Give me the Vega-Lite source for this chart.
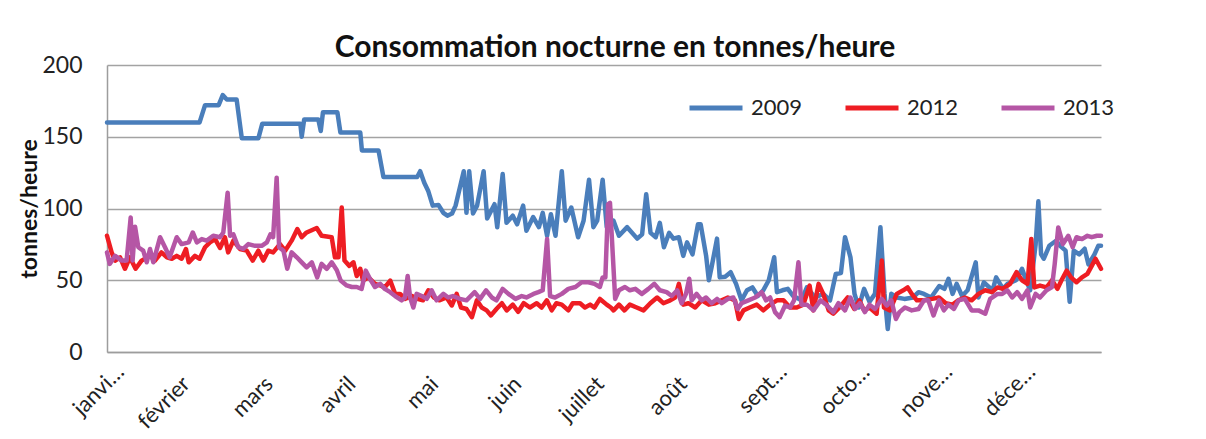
{
  "$schema": "https://vega.github.io/schema/vega-lite/v6.json",
  "autosize": {"type": "none"},
  "padding": {"left": 107, "top": 65, "right": 105, "bottom": 87},
  "width": 994,
  "height": 287,
  "background": "white",
  "title": {"text": "Consommation nocturne en tonnes/heure", "font": "Lato", "fontSize": 30, "fontWeight": "bold", "color": "#111111", "anchor": "middle", "offset": -9, "dx": 11},
  "config": {"view": {"stroke": null}},
  "data": {"values": [
{"s":"2009","d":0,"v":160},{"s":"2009","d":34,"v":160},{"s":"2009","d":36,"v":172},{"s":"2009","d":41,"v":172},{"s":"2009","d":42.5,"v":179},{"s":"2009","d":44,"v":176},{"s":"2009","d":47.6,"v":176},{"s":"2009","d":49.5,"v":149},{"s":"2009","d":55.6,"v":149},{"s":"2009","d":57,"v":159},{"s":"2009","d":71,"v":159},{"s":"2009","d":71.5,"v":150},{"s":"2009","d":72.4,"v":162},{"s":"2009","d":77.6,"v":162},{"s":"2009","d":78.5,"v":154},{"s":"2009","d":79.3,"v":167},{"s":"2009","d":84.6,"v":167},{"s":"2009","d":85.7,"v":153},{"s":"2009","d":93,"v":153},{"s":"2009","d":93.6,"v":140.5},{"s":"2009","d":99.7,"v":140.5},{"s":"2009","d":101.5,"v":122},{"s":"2009","d":113.9,"v":122},{"s":"2009","d":115,"v":126},{"s":"2009","d":116.5,"v":118},{"s":"2009","d":118,"v":112},{"s":"2009","d":119.6,"v":102},{"s":"2009","d":121.7,"v":102.5},{"s":"2009","d":123.5,"v":97},{"s":"2009","d":125,"v":95},{"s":"2009","d":126.7,"v":96.5},{"s":"2009","d":128,"v":102},{"s":"2009","d":131,"v":126},{"s":"2009","d":132,"v":97},{"s":"2009","d":133,"v":126},{"s":"2009","d":134.4,"v":96.5},{"s":"2009","d":135.9,"v":102},{"s":"2009","d":138.3,"v":126},{"s":"2009","d":139.6,"v":93},{"s":"2009","d":142.3,"v":103},{"s":"2009","d":143.3,"v":87},{"s":"2009","d":145.3,"v":124},{"s":"2009","d":146.7,"v":90},{"s":"2009","d":149,"v":95},{"s":"2009","d":150.6,"v":89},{"s":"2009","d":152.8,"v":102},{"s":"2009","d":154,"v":84.5},{"s":"2009","d":156.5,"v":94},{"s":"2009","d":158.6,"v":87},{"s":"2009","d":160,"v":97},{"s":"2009","d":161.6,"v":81},{"s":"2009","d":163,"v":96},{"s":"2009","d":164.7,"v":81},{"s":"2009","d":167,"v":126},{"s":"2009","d":168.4,"v":91.5},{"s":"2009","d":170.5,"v":100.7},{"s":"2009","d":173,"v":80},{"s":"2009","d":175,"v":91.5},{"s":"2009","d":177,"v":120},{"s":"2009","d":178.6,"v":87},{"s":"2009","d":180,"v":91.5},{"s":"2009","d":182,"v":120},{"s":"2009","d":183.5,"v":87},{"s":"2009","d":186,"v":91.5},{"s":"2009","d":188,"v":81},{"s":"2009","d":191,"v":87},{"s":"2009","d":194.7,"v":79},{"s":"2009","d":196.5,"v":82},{"s":"2009","d":198,"v":110},{"s":"2009","d":199.6,"v":83},{"s":"2009","d":201.5,"v":80},{"s":"2009","d":203,"v":90},{"s":"2009","d":204.5,"v":73},{"s":"2009","d":206.4,"v":83},{"s":"2009","d":208,"v":79},{"s":"2009","d":210,"v":80},{"s":"2009","d":211.6,"v":67},{"s":"2009","d":213,"v":76.4},{"s":"2009","d":215,"v":68},{"s":"2009","d":217,"v":89},{"s":"2009","d":218,"v":89},{"s":"2009","d":220,"v":67},{"s":"2009","d":221,"v":50},{"s":"2009","d":222,"v":59},{"s":"2009","d":224,"v":79},{"s":"2009","d":225,"v":52},{"s":"2009","d":227,"v":52.5},{"s":"2009","d":229,"v":55.6},{"s":"2009","d":231,"v":47.5},{"s":"2009","d":233,"v":36},{"s":"2009","d":235,"v":43},{"s":"2009","d":237,"v":45},{"s":"2009","d":239,"v":39},{"s":"2009","d":241,"v":43},{"s":"2009","d":243,"v":50},{"s":"2009","d":245,"v":66},{"s":"2009","d":246,"v":41.7},{"s":"2009","d":248,"v":43},{"s":"2009","d":250,"v":44},{"s":"2009","d":252,"v":39},{"s":"2009","d":255,"v":36},{"s":"2009","d":257,"v":45},{"s":"2009","d":260,"v":38},{"s":"2009","d":263,"v":40.5},{"s":"2009","d":265.5,"v":36},{"s":"2009","d":267.6,"v":54.4},{"s":"2009","d":269.5,"v":55},{"s":"2009","d":271,"v":80},{"s":"2009","d":273,"v":66},{"s":"2009","d":274.5,"v":40.5},{"s":"2009","d":276,"v":31},{"s":"2009","d":278,"v":44},{"s":"2009","d":280,"v":35},{"s":"2009","d":282,"v":40.5},{"s":"2009","d":284,"v":87},{"s":"2009","d":285.5,"v":40.6},{"s":"2009","d":286.7,"v":16},{"s":"2009","d":288,"v":40.6},{"s":"2009","d":290,"v":38},{"s":"2009","d":292.8,"v":37},{"s":"2009","d":296,"v":38},{"s":"2009","d":298,"v":41.7},{"s":"2009","d":300,"v":40.5},{"s":"2009","d":302.6,"v":38},{"s":"2009","d":305.6,"v":46},{"s":"2009","d":307.5,"v":44},{"s":"2009","d":309,"v":51},{"s":"2009","d":310.5,"v":40.5},{"s":"2009","d":312,"v":47.5},{"s":"2009","d":314,"v":39},{"s":"2009","d":316,"v":43},{"s":"2009","d":319,"v":62.5},{"s":"2009","d":320,"v":38},{"s":"2009","d":322,"v":48.6},{"s":"2009","d":324,"v":45},{"s":"2009","d":325,"v":41.7},{"s":"2009","d":326.5,"v":52},{"s":"2009","d":329,"v":44},{"s":"2009","d":330.7,"v":47.5},{"s":"2009","d":333.8,"v":50},{"s":"2009","d":336,"v":58},{"s":"2009","d":337.5,"v":50},{"s":"2009","d":339,"v":43},{"s":"2009","d":341,"v":75},{"s":"2009","d":342,"v":105},{"s":"2009","d":343,"v":68},{"s":"2009","d":344,"v":65},{"s":"2009","d":346,"v":74},{"s":"2009","d":348.5,"v":77.5},{"s":"2009","d":350,"v":74},{"s":"2009","d":352,"v":70.6},{"s":"2009","d":353.5,"v":35},{"s":"2009","d":355,"v":70.6},{"s":"2009","d":357,"v":68},{"s":"2009","d":359,"v":72},{"s":"2009","d":360.4,"v":61},{"s":"2009","d":362.6,"v":68},{"s":"2009","d":364,"v":74},{"s":"2009","d":365,"v":74},
{"s":"2012","d":0,"v":81},{"s":"2012","d":1.7,"v":69.4},{"s":"2012","d":3,"v":63.7},{"s":"2012","d":4.8,"v":66},{"s":"2012","d":6.6,"v":58},{"s":"2012","d":8.4,"v":66},{"s":"2012","d":10.5,"v":58},{"s":"2012","d":12.7,"v":63.7},{"s":"2012","d":15.8,"v":67},{"s":"2012","d":17.6,"v":63.7},{"s":"2012","d":20,"v":69.4},{"s":"2012","d":22,"v":66},{"s":"2012","d":23.8,"v":65},{"s":"2012","d":25.6,"v":67},{"s":"2012","d":27.4,"v":65},{"s":"2012","d":29,"v":71.8},{"s":"2012","d":30,"v":62.5},{"s":"2012","d":32.3,"v":67},{"s":"2012","d":34,"v":65},{"s":"2012","d":36,"v":73},{"s":"2012","d":37.8,"v":76.4},{"s":"2012","d":39.7,"v":78.7},{"s":"2012","d":41.5,"v":72.5},{"s":"2012","d":43.3,"v":80},{"s":"2012","d":44.5,"v":69.4},{"s":"2012","d":46.4,"v":77.6},{"s":"2012","d":48.8,"v":71.8},{"s":"2012","d":51.3,"v":70.6},{"s":"2012","d":53.5,"v":63.7},{"s":"2012","d":55.6,"v":70.6},{"s":"2012","d":57.4,"v":63.7},{"s":"2012","d":59.2,"v":70.6},{"s":"2012","d":61,"v":69.4},{"s":"2012","d":63.5,"v":75.2},{"s":"2012","d":65.4,"v":70.6},{"s":"2012","d":67.8,"v":77.6},{"s":"2012","d":69.9,"v":85.7},{"s":"2012","d":71.5,"v":80},{"s":"2012","d":73.3,"v":83.3},{"s":"2012","d":77,"v":86.4},{"s":"2012","d":78.8,"v":81},{"s":"2012","d":80.7,"v":80.5},{"s":"2012","d":82.5,"v":80},{"s":"2012","d":83.7,"v":66},{"s":"2012","d":85,"v":66},{"s":"2012","d":86.2,"v":100.7},{"s":"2012","d":87.2,"v":63.7},{"s":"2012","d":89,"v":60},{"s":"2012","d":90.5,"v":62.5},{"s":"2012","d":91.7,"v":53},{"s":"2012","d":93,"v":58},{"s":"2012","d":94,"v":49.8},{"s":"2012","d":96,"v":52},{"s":"2012","d":98.4,"v":47.5},{"s":"2012","d":100.3,"v":46.4},{"s":"2012","d":102,"v":45},{"s":"2012","d":104,"v":49.8},{"s":"2012","d":105.8,"v":40.5},{"s":"2012","d":107.6,"v":40.5},{"s":"2012","d":109.4,"v":37},{"s":"2012","d":112,"v":39},{"s":"2012","d":114,"v":37},{"s":"2012","d":116,"v":36},{"s":"2012","d":118,"v":43},{"s":"2012","d":120,"v":38},{"s":"2012","d":122,"v":36},{"s":"2012","d":124.7,"v":38},{"s":"2012","d":126.6,"v":32.4},{"s":"2012","d":128.4,"v":40.5},{"s":"2012","d":130,"v":31},{"s":"2012","d":132,"v":30},{"s":"2012","d":134,"v":24.3},{"s":"2012","d":135.8,"v":36},{"s":"2012","d":137.6,"v":31},{"s":"2012","d":139.4,"v":29},{"s":"2012","d":141,"v":25.5},{"s":"2012","d":143,"v":30},{"s":"2012","d":145,"v":34},{"s":"2012","d":146.8,"v":29},{"s":"2012","d":149,"v":33},{"s":"2012","d":151,"v":28},{"s":"2012","d":153,"v":34},{"s":"2012","d":155.3,"v":31},{"s":"2012","d":157.8,"v":34},{"s":"2012","d":159.6,"v":31},{"s":"2012","d":161.5,"v":36},{"s":"2012","d":163.3,"v":29},{"s":"2012","d":165,"v":34},{"s":"2012","d":167,"v":33},{"s":"2012","d":169.4,"v":29},{"s":"2012","d":171,"v":34},{"s":"2012","d":173.7,"v":34},{"s":"2012","d":175.5,"v":31},{"s":"2012","d":177.4,"v":33},{"s":"2012","d":179,"v":31},{"s":"2012","d":181,"v":37},{"s":"2012","d":183.5,"v":33},{"s":"2012","d":185,"v":31},{"s":"2012","d":186,"v":29},{"s":"2012","d":188,"v":33},{"s":"2012","d":190,"v":29},{"s":"2012","d":192,"v":33},{"s":"2012","d":194.5,"v":31},{"s":"2012","d":197,"v":29},{"s":"2012","d":199.5,"v":34},{"s":"2012","d":202,"v":38},{"s":"2012","d":204.3,"v":34},{"s":"2012","d":206.8,"v":36},{"s":"2012","d":208.6,"v":38},{"s":"2012","d":210,"v":47.5},{"s":"2012","d":211.6,"v":33},{"s":"2012","d":213.5,"v":34},{"s":"2012","d":216,"v":31},{"s":"2012","d":218.4,"v":36},{"s":"2012","d":221,"v":33},{"s":"2012","d":223.4,"v":34},{"s":"2012","d":225.7,"v":36},{"s":"2012","d":228,"v":38},{"s":"2012","d":230.6,"v":36},{"s":"2012","d":232,"v":23},{"s":"2012","d":233.7,"v":29},{"s":"2012","d":236,"v":31},{"s":"2012","d":238.6,"v":33},{"s":"2012","d":241,"v":29},{"s":"2012","d":243.5,"v":33},{"s":"2012","d":246,"v":36},{"s":"2012","d":248.4,"v":36},{"s":"2012","d":250.8,"v":31},{"s":"2012","d":253.3,"v":31},{"s":"2012","d":255.7,"v":33},{"s":"2012","d":258,"v":46.3},{"s":"2012","d":259.4,"v":29},{"s":"2012","d":261.3,"v":47.5},{"s":"2012","d":263,"v":40.5},{"s":"2012","d":265,"v":29},{"s":"2012","d":266.7,"v":26.7},{"s":"2012","d":269,"v":31},{"s":"2012","d":272,"v":38},{"s":"2012","d":274.4,"v":30},{"s":"2012","d":276.3,"v":36},{"s":"2012","d":278,"v":29},{"s":"2012","d":280,"v":31},{"s":"2012","d":282.6,"v":26.7},{"s":"2012","d":284.5,"v":63.7},{"s":"2012","d":285.3,"v":31},{"s":"2012","d":287.5,"v":29},{"s":"2012","d":290,"v":40.5},{"s":"2012","d":292.4,"v":43},{"s":"2012","d":294,"v":45},{"s":"2012","d":295.5,"v":40.5},{"s":"2012","d":297.4,"v":36},{"s":"2012","d":300,"v":36},{"s":"2012","d":303,"v":37},{"s":"2012","d":305.5,"v":38},{"s":"2012","d":308,"v":34},{"s":"2012","d":310.5,"v":33},{"s":"2012","d":312.6,"v":36},{"s":"2012","d":315,"v":38},{"s":"2012","d":317.5,"v":36},{"s":"2012","d":320,"v":40.5},{"s":"2012","d":322.5,"v":43},{"s":"2012","d":325,"v":41.7},{"s":"2012","d":327,"v":45},{"s":"2012","d":329,"v":44},{"s":"2012","d":331.6,"v":47.5},{"s":"2012","d":334,"v":55.6},{"s":"2012","d":336,"v":50},{"s":"2012","d":338,"v":47.5},{"s":"2012","d":339.4,"v":78.8},{"s":"2012","d":340.5,"v":45},{"s":"2012","d":342.6,"v":46.3},{"s":"2012","d":345,"v":45},{"s":"2012","d":347,"v":50},{"s":"2012","d":349,"v":44},{"s":"2012","d":350.5,"v":50},{"s":"2012","d":352.4,"v":56.7},{"s":"2012","d":354,"v":52},{"s":"2012","d":356,"v":48.6},{"s":"2012","d":358,"v":52},{"s":"2012","d":360,"v":54.4},{"s":"2012","d":361.6,"v":60},{"s":"2012","d":363,"v":65},{"s":"2012","d":365,"v":58},
{"s":"2013","d":0,"v":69.4},{"s":"2013","d":1,"v":61.4},{"s":"2013","d":3,"v":67},{"s":"2013","d":5.4,"v":63.7},{"s":"2013","d":7.2,"v":63.7},{"s":"2013","d":8.7,"v":93.7},{"s":"2013","d":9.4,"v":63.7},{"s":"2013","d":10.3,"v":87.3},{"s":"2013","d":11.5,"v":73},{"s":"2013","d":13.3,"v":70.6},{"s":"2013","d":14.6,"v":62.5},{"s":"2013","d":15.8,"v":71.8},{"s":"2013","d":17,"v":62.5},{"s":"2013","d":19.5,"v":80},{"s":"2013","d":21.3,"v":73},{"s":"2013","d":23,"v":66},{"s":"2013","d":25.6,"v":80},{"s":"2013","d":27.4,"v":75.2},{"s":"2013","d":30,"v":76.4},{"s":"2013","d":31.5,"v":83.3},{"s":"2013","d":33,"v":76.4},{"s":"2013","d":34.8,"v":78.7},{"s":"2013","d":36.6,"v":77.6},{"s":"2013","d":39,"v":81},{"s":"2013","d":41.5,"v":80},{"s":"2013","d":42.7,"v":83.3},{"s":"2013","d":44.3,"v":111},{"s":"2013","d":45.2,"v":81},{"s":"2013","d":46.4,"v":82},{"s":"2013","d":48.2,"v":73},{"s":"2013","d":50,"v":71.8},{"s":"2013","d":51.9,"v":75.2},{"s":"2013","d":54.4,"v":74},{"s":"2013","d":56.8,"v":74},{"s":"2013","d":58.7,"v":76.4},{"s":"2013","d":60,"v":82},{"s":"2013","d":61,"v":80},{"s":"2013","d":62.3,"v":121.5},{"s":"2013","d":63.2,"v":73},{"s":"2013","d":64.8,"v":70.6},{"s":"2013","d":66.2,"v":58},{"s":"2013","d":67.8,"v":69.4},{"s":"2013","d":69.7,"v":66},{"s":"2013","d":71.5,"v":62.5},{"s":"2013","d":73.3,"v":59},{"s":"2013","d":75.2,"v":62.5},{"s":"2013","d":77.2,"v":52},{"s":"2013","d":78.8,"v":61.4},{"s":"2013","d":80.7,"v":58},{"s":"2013","d":82.5,"v":62.5},{"s":"2013","d":84.4,"v":57},{"s":"2013","d":85.8,"v":49.8},{"s":"2013","d":88,"v":46.4},{"s":"2013","d":89.9,"v":45.3},{"s":"2013","d":91.7,"v":45.3},{"s":"2013","d":93.5,"v":44},{"s":"2013","d":95,"v":56.7},{"s":"2013","d":96.6,"v":50.9},{"s":"2013","d":98.4,"v":45.3},{"s":"2013","d":100.3,"v":47.5},{"s":"2013","d":102,"v":44},{"s":"2013","d":104,"v":41.7},{"s":"2013","d":105.8,"v":39},{"s":"2013","d":108.2,"v":36},{"s":"2013","d":109.4,"v":38},{"s":"2013","d":110.4,"v":53},{"s":"2013","d":111.3,"v":38},{"s":"2013","d":112.5,"v":31},{"s":"2013","d":113.7,"v":40.5},{"s":"2013","d":115.6,"v":39},{"s":"2013","d":117.4,"v":37},{"s":"2013","d":119.2,"v":43},{"s":"2013","d":121,"v":36},{"s":"2013","d":123.5,"v":40.5},{"s":"2013","d":125.3,"v":38},{"s":"2013","d":127,"v":39},{"s":"2013","d":129.6,"v":37},{"s":"2013","d":132,"v":36},{"s":"2013","d":135,"v":41.7},{"s":"2013","d":137,"v":37},{"s":"2013","d":139.2,"v":43},{"s":"2013","d":141.3,"v":38},{"s":"2013","d":143,"v":36},{"s":"2013","d":145.3,"v":44},{"s":"2013","d":147.4,"v":40.5},{"s":"2013","d":150,"v":37},{"s":"2013","d":152.3,"v":39},{"s":"2013","d":154,"v":38},{"s":"2013","d":156.6,"v":40.5},{"s":"2013","d":158.4,"v":41.7},{"s":"2013","d":160,"v":43},{"s":"2013","d":161.6,"v":78.7},{"s":"2013","d":162.7,"v":39},{"s":"2013","d":164.5,"v":38},{"s":"2013","d":167,"v":40.5},{"s":"2013","d":169.4,"v":44},{"s":"2013","d":172,"v":45.3},{"s":"2013","d":174.3,"v":48.6},{"s":"2013","d":176.8,"v":48.6},{"s":"2013","d":179,"v":47.5},{"s":"2013","d":181,"v":45.3},{"s":"2013","d":182,"v":52},{"s":"2013","d":183,"v":52},{"s":"2013","d":184,"v":103},{"s":"2013","d":184.7,"v":104},{"s":"2013","d":186.6,"v":37},{"s":"2013","d":188,"v":43},{"s":"2013","d":190.2,"v":45.3},{"s":"2013","d":192,"v":43},{"s":"2013","d":194,"v":44},{"s":"2013","d":196.4,"v":40.5},{"s":"2013","d":198.8,"v":44},{"s":"2013","d":201,"v":47.5},{"s":"2013","d":203,"v":43},{"s":"2013","d":205.5,"v":41.7},{"s":"2013","d":207.4,"v":39},{"s":"2013","d":209.4,"v":43},{"s":"2013","d":211,"v":34},{"s":"2013","d":212.6,"v":40.5},{"s":"2013","d":213.8,"v":51},{"s":"2013","d":214.7,"v":36},{"s":"2013","d":216.5,"v":40.5},{"s":"2013","d":218.4,"v":36},{"s":"2013","d":220,"v":38},{"s":"2013","d":222,"v":34},{"s":"2013","d":224,"v":37},{"s":"2013","d":225.7,"v":34},{"s":"2013","d":228,"v":37},{"s":"2013","d":230,"v":38},{"s":"2013","d":231.6,"v":30},{"s":"2013","d":233,"v":34},{"s":"2013","d":235.5,"v":36},{"s":"2013","d":238,"v":38},{"s":"2013","d":240.4,"v":41.7},{"s":"2013","d":242,"v":36},{"s":"2013","d":243.5,"v":38},{"s":"2013","d":245.3,"v":27.8},{"s":"2013","d":247,"v":24.3},{"s":"2013","d":249,"v":32.4},{"s":"2013","d":250.8,"v":31},{"s":"2013","d":252.3,"v":36},{"s":"2013","d":253.9,"v":62.5},{"s":"2013","d":255,"v":33},{"s":"2013","d":257,"v":33},{"s":"2013","d":259.4,"v":29},{"s":"2013","d":262,"v":36},{"s":"2013","d":264.4,"v":32.4},{"s":"2013","d":266.7,"v":27.8},{"s":"2013","d":268.6,"v":34},{"s":"2013","d":271,"v":29},{"s":"2013","d":273,"v":38},{"s":"2013","d":274.7,"v":30},{"s":"2013","d":276.5,"v":34},{"s":"2013","d":278.3,"v":27.8},{"s":"2013","d":280,"v":33},{"s":"2013","d":282,"v":30},{"s":"2013","d":284.5,"v":37},{"s":"2013","d":286.3,"v":32.4},{"s":"2013","d":288,"v":36},{"s":"2013","d":289.7,"v":23},{"s":"2013","d":291,"v":27.8},{"s":"2013","d":293,"v":31},{"s":"2013","d":295.5,"v":29},{"s":"2013","d":298,"v":30},{"s":"2013","d":300,"v":36},{"s":"2013","d":301.6,"v":36},{"s":"2013","d":303.5,"v":25.5},{"s":"2013","d":305.5,"v":36},{"s":"2013","d":307.3,"v":29},{"s":"2013","d":309,"v":33},{"s":"2013","d":311,"v":30},{"s":"2013","d":312.7,"v":36},{"s":"2013","d":315,"v":37},{"s":"2013","d":317.5,"v":29},{"s":"2013","d":320,"v":29},{"s":"2013","d":322.5,"v":26.7},{"s":"2013","d":324.3,"v":37},{"s":"2013","d":327,"v":40.5},{"s":"2013","d":328.7,"v":40.5},{"s":"2013","d":330.6,"v":43},{"s":"2013","d":332.4,"v":38},{"s":"2013","d":334.2,"v":41.7},{"s":"2013","d":336,"v":37},{"s":"2013","d":338,"v":43},{"s":"2013","d":339,"v":31},{"s":"2013","d":341,"v":40.5},{"s":"2013","d":342.6,"v":38},{"s":"2013","d":345,"v":43},{"s":"2013","d":347,"v":45.3},{"s":"2013","d":348,"v":61.4},{"s":"2013","d":349.3,"v":86.8},{"s":"2013","d":351,"v":75.2},{"s":"2013","d":353,"v":81},{"s":"2013","d":354.6,"v":73},{"s":"2013","d":356,"v":80},{"s":"2013","d":358,"v":78.7},{"s":"2013","d":360,"v":81},{"s":"2013","d":361.6,"v":80},{"s":"2013","d":363.5,"v":81},{"s":"2013","d":365,"v":81}
  ]},
  "mark": {"type": "line", "strokeWidth": 4.5, "strokeCap": "round", "strokeJoin": "round"},
  "encoding": {
    "x": {"field": "d", "type": "quantitative",
      "scale": {"domain": [0, 365], "nice": false, "zero": false},
      "axis": {"values": [0, 30.4167, 60.8333, 91.25, 121.6667, 152.0833, 182.5, 212.9167, 243.3333, 273.75, 304.1667, 334.5833],
        "labelExpr": "['janvi…','février','mars','avril','mai','juin','juillet','août','sept…','octo…','nove…','déce…'][round(datum.value / 30.4167)]",
        "title": null, "grid": false, "ticks": false, "domain": true, "domainColor": "#9d9d9d", "domainWidth": 1.5,
        "labelAngle": -45, "labelAlign": "right", "labelBaseline": "middle", "labelFont": "Lato", "labelFontSize": 22, "labelColor": "#222222",
        "labelPadding": {"condition": {"test": "indexof([0,8,9,10,11], round(datum.value / 30.4167)) >= 0", "value": 16}, "value": 28},
        "labelOffset": {"condition": {"test": "indexof([0,8,9,10,11], round(datum.value / 30.4167)) >= 0", "value": 13}, "value": -4},
        "labelOverlap": false, "labelFlush": false, "labelBound": false}},
    "y": {"field": "v", "type": "quantitative",
      "scale": {"domain": [0, 200], "nice": false},
      "axis": {"values": [0, 50, 100, 150, 200], "title": "tonnes/heure", "titleFont": "Lato", "titleFontSize": 23, "titleFontWeight": "bold", "titleColor": "#111111", "titlePadding": 0,
        "grid": true, "gridColor": "#a3a3a3", "gridWidth": 1.5, "ticks": false, "domain": true, "domainColor": "#9d9d9d", "domainWidth": 1.5,
        "labelFont": "Lato", "labelFontSize": 23, "labelColor": "#222222", "labelPadding": 25}},
    "color": {"field": "s", "type": "nominal",
      "scale": {"domain": ["2009", "2012", "2013"], "range": ["#4a7ebb", "#ee1d23", "#b556a5"]},
      "legend": {"title": null, "orient": "none", "legendX": 580, "legendY": 14, "direction": "horizontal",
        "symbolType": "stroke", "symbolSize": 2809, "symbolStrokeWidth": 5, "labelFont": "Lato", "labelFontSize": 22, "labelColor": "#222222",
        "labelOffset": 6, "columnPadding": 32, "padding": 0}}
  }
}
